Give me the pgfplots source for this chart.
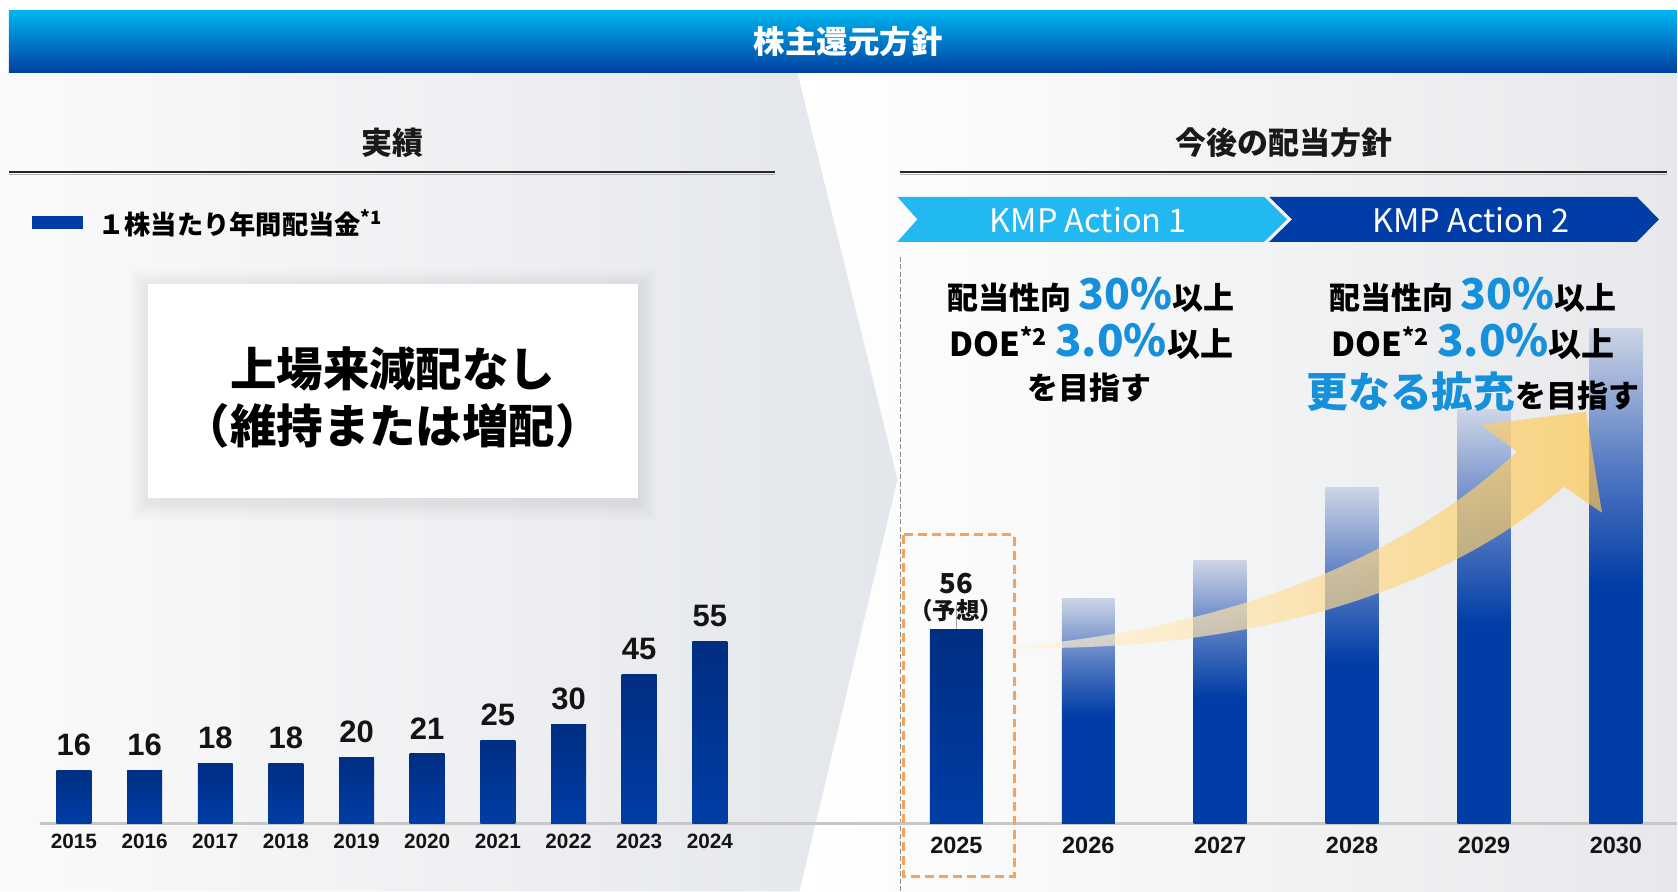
\documentclass[border=0pt]{standalone}
\usepackage{pgfplots}
\pgfplotsset{compat=1.18}
\usepackage{fontspec}
\setmainfont{Liberation Sans}
\newfontfamily\jp{Noto Sans CJK JP}
\definecolor{barblue}{HTML}{003DA6}
\definecolor{bartop}{HTML}{002E82}
\definecolor{midblue}{HTML}{5479C2}
\definecolor{fadetop}{HTML}{CDD5E6}
\definecolor{cyanA}{HTML}{22B8F2}
\definecolor{navyA}{HTML}{003DA6}
\definecolor{textblue}{HTML}{1690DA}
\definecolor{orangeD}{HTML}{F5A25A}
\definecolor{arrowY}{HTML}{FFC64A}
\definecolor{arrowL}{HTML}{FFF6E2}
\definecolor{bgL}{HTML}{FAFAFB}
\definecolor{bgR}{HTML}{E3E6EA}
\definecolor{bg2R}{HTML}{E6E8EB}
\definecolor{banT}{HTML}{00B4F0}
\definecolor{banB}{HTML}{0040A0}
\pgfdeclareverticalshading{fadebar}{100bp}{color(0bp)=(barblue); color(25bp)=(barblue); color(49bp)=(barblue); color(61bp)=(midblue); color(75bp)=(fadetop); color(100bp)=(fadetop)}
\pgfplotsset{
  lbar/.style={ybar, bar width=14pt, bar shift=0pt, draw=none, top color=bartop, bottom color=barblue,
    nodes near coords,
    every node near coord/.append style={font=\bfseries\fontsize{12.4}{13}\selectfont, anchor=base, yshift=6pt, inner sep=0pt, text=black!92}},
  fbar/.style={ybar, bar width=21.2pt, bar shift=0pt, draw=none, shade, shading=fadebar},
}
\begin{document}
\begin{tikzpicture}
\begin{scope}[x=0.4pt,y=-0.4pt]
 \fill[white] (0,0) rectangle (1678,892);
 \shade[left color=white, right color=bg2R] (800,73) rectangle (1678,892);
 \shade[left color=bgL, right color=bgR] (0,73) -- (798,73) -- (898,480) -- (800,892) -- (0,892) -- cycle;
 \shade[top color=banT, bottom color=banB] (9,11) rectangle (1678,73);
 \node[white, font=\jp\bfseries\fontsize{12.6}{14}\selectfont] at (849,42) {株主還元方針};
 % headings
 \node[font=\jp\bfseries\fontsize{12.4}{14}\selectfont, text=black!90] at (393,143) {実績};
 \node[font=\jp\bfseries\fontsize{12.4}{14}\selectfont, text=black!90] at (1285,143) {今後の配当方針};
 \draw[black!85, line width=0.8pt] (9,172) -- (776,172);
 \draw[black!85, line width=0.8pt] (901,172) -- (1668,172);
 \draw[black!30, line width=0.5pt] (9,174.5) -- (776,174.5);
 \draw[black!30, line width=0.5pt] (901,174.5) -- (1668,174.5);
 % legend
 \fill[barblue] (32,216) rectangle (83,229);
 \node[anchor=west, font=\jp\bfseries\fontsize{10.5}{12}\selectfont, inner sep=0pt] at (98,223) {１株当たり年間配当金\textsuperscript{*1}};
 % white box with soft shadow
 \foreach \k in {18,15,...,3} {
   \fill[black, opacity=0.011] (148-\k,284-\k+4) rectangle (638+\k,498+\k+4);
 }
 \fill[white] (148,284) rectangle (638,498);
 \node[font=\jp\bfseries\fontsize{18.6}{22.8}\selectfont] at (393,369) {上場来減配なし};
 \node[font=\jp\bfseries\fontsize{18.6}{22.8}\selectfont] at (393,426) {（維持または増配）};
 % dashed divider
 \draw[black!45, line width=0.4pt, dash pattern=on 2pt off 1pt] (901,257) -- (901,892);
 % KMP arrows
 \fill[cyanA] (898,197) -- (1265,197) -- (1288,219.5) -- (1265,242) -- (898,242) -- (918,219.5) -- cycle;
 \fill[navyA] (1270,197) -- (1638,197) -- (1660,219.5) -- (1638,242) -- (1270,242) -- (1293,219.5) -- cycle;
 \node[white, font=\jp\fontsize{13}{14}\selectfont] at (1089,220) {KMP Action 1};
 \node[white, font=\jp\fontsize{13}{14}\selectfont] at (1472,220) {KMP Action 2};
\end{scope}

% ---------- left chart: actual dividends ----------
\begin{axis}[
  at={(16pt,-329.6pt)}, anchor=south west, scale only axis,
  width=304pt, height=92.68pt,
  xmin=-0.481, xmax=10.269, ymin=0, ymax=70,
  axis y line=none, axis x line*=bottom,
  x axis line style={draw=black!22, line width=0.9pt, -},
  xtick={0,1,2,3,4,5,6,7,8,9},
  xticklabels={2015,2016,2017,2018,2019,2020,2021,2022,2023,2024},
  major tick length=0pt, xtick style={draw=none},
  xticklabel style={font=\bfseries\fontsize{8.3}{9}\selectfont, anchor=base, yshift=-10.2pt, text=black!92},
  /pgf/number format/assume math mode=true,
  clip=false,
]
\addplot[lbar] coordinates {(0,16)};
\addplot[lbar] coordinates {(1,16)};
\addplot[lbar] coordinates {(2,18)};
\addplot[lbar] coordinates {(3,18)};
\addplot[lbar] coordinates {(4,20)};
\addplot[lbar] coordinates {(5,21)};
\addplot[lbar] coordinates {(6,25)};
\addplot[lbar] coordinates {(7,30)};
\addplot[lbar] coordinates {(8,45)};
\addplot[lbar] coordinates {(9,55)};
\end{axis}

% ---------- right chart: policy ----------
\begin{axis}[
  at={(320pt,-329.6pt)}, anchor=south west, scale only axis,
  width=351.2pt, height=207.84pt,
  xmin=-1.1894, xmax=5.4621, ymin=0, ymax=150,
  axis y line=none, axis x line*=bottom,
  x axis line style={draw=black!22, line width=0.9pt, -},
  xtick={0,1,2,3,4,5},
  xticklabels={2025,2026,2027,2028,2029,2030},
  major tick length=0pt, xtick style={draw=none},
  xticklabel style={font=\bfseries\fontsize{9.4}{10}\selectfont, anchor=base, yshift=-12.2pt, text=black!92},
  /pgf/number format/assume math mode=true,
  clip=false,
]
\addplot[fbar] coordinates {(1,65)};
\addplot[fbar] coordinates {(2,76)};
\addplot[fbar] coordinates {(3,97)};
\addplot[fbar] coordinates {(4,119.5)};
\addplot[fbar] coordinates {(5,143)};
\draw[black!35, line width=0.4pt] (axis cs:0,56) -- ++(0pt,10pt);
\addplot[ybar, bar width=21.2pt, bar shift=0pt, draw=none, top color=bartop, bottom color=barblue,
  nodes near coords={\pgfmathprintnumber{\pgfplotspointmeta}\\{\fontsize{9.4}{9}\selectfont （予想）}},
  every node near coord/.append style={font=\jp\bfseries\fontsize{11}{10.4}\selectfont, align=center, anchor=south, yshift=3pt, inner sep=0pt, text=black!92}]
  coordinates {(0,56)};
\end{axis}

\begin{scope}[x=0.4pt,y=-0.4pt]
 % rising arrow (translucent, over the bars)
 \shade[left color=arrowL, right color=arrowY, opacity=0.68]
   (1000,648) .. controls (1250,630) and (1420,545) .. (1518,452)
   -- (1482,425) -- (1587,412) -- (1603,513) -- (1565,487)
   .. controls (1450,590) and (1250,655) .. (1000,648) -- cycle;
 % forecast box
 \draw[orangeD, line width=1.2pt, dash pattern=on 3.6pt off 2pt] (904,535) rectangle (1015,877);
 % policy texts
 \node[anchor=base, inner sep=0pt, font=\jp\bfseries\fontsize{12.4}{14}\selectfont] at (1092,310)
   {配当性向 {\color{textblue}\fontsize{17}{18}\selectfont 30\%}以上};
 \node[anchor=base, inner sep=0pt, font=\jp\bfseries\fontsize{13.2}{14}\selectfont] at (1092,357)
   {DOE\textsuperscript{*2} {\color{textblue}\fontsize{17.5}{18}\selectfont 3.0\%}以上};
 \node[anchor=base, inner sep=0pt, font=\jp\bfseries\fontsize{12.4}{14}\selectfont] at (1090,400)
   {を目指す};
 \node[anchor=base, inner sep=0pt, font=\jp\bfseries\fontsize{12.4}{14}\selectfont] at (1474,310)
   {配当性向 {\color{textblue}\fontsize{17}{18}\selectfont 30\%}以上};
 \node[anchor=base, inner sep=0pt, font=\jp\bfseries\fontsize{13.2}{14}\selectfont] at (1474,357)
   {DOE\textsuperscript{*2} {\color{textblue}\fontsize{17.5}{18}\selectfont 3.0\%}以上};
 \node[anchor=base, inner sep=0pt, font=\jp\bfseries\fontsize{12.4}{14}\selectfont] at (1474,408)
   {{\color{textblue}\fontsize{16.7}{18}\selectfont 更なる拡充}を目指す};
\end{scope}
\end{tikzpicture}
\end{document}
